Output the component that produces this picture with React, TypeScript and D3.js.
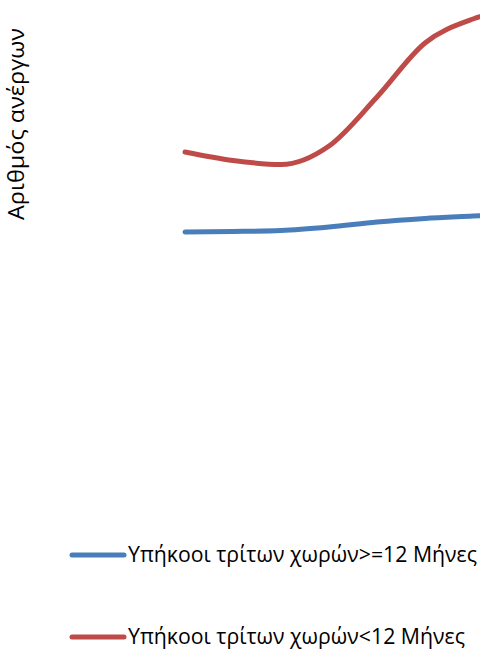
import React from "react";
import * as d3 from "d3";

const periods = ["P1", "P2", "P3", "P4", "P5", "P6", "P7", "P8"];
const seriesNames = ["Υπήκοοι τρίτων χωρών>=12 Μήνες", "Υπήκοοι τρίτων χωρών<12 Μήνες"];
const longTerm = [1800, 1805, 1815, 1850, 1900, 1935, 1960, 1985];
const shortTerm = [2600, 2515, 2475, 2660, 3150, 3690, 3930, 4040];
const colors = ["#4a7ebb", "#be4b48"];
const yTitle = "Αριθμός ανέργων";

export default function App() {
  const W = 480, H = 651;
  const x = d3.scalePoint<string>().domain(periods).range([185, 185 + 48 * (periods.length - 1)]);
  const y = d3.scaleLinear().domain([0, 4000]).range([412, 12]);
  const line = d3
    .line<number>()
    .x((_, i) => x(periods[i]) as number)
    .y((d) => y(d))
    .curve(d3.curveMonotoneX);
  const series = [longTerm, shortTerm];
  const font = "'Open Sans', 'Noto Sans', sans-serif";
  const legendY = [555, 637];
  return (
    <svg width={W} height={H} style={{ position: "absolute", left: 0, top: 0, background: "#fff" }}>
      <defs>
        <clipPath id="plot">
          <rect x={0} y={0} width={W} height={H} />
        </clipPath>
      </defs>
      <g clipPath="url(#plot)">
        {series.map((s, i) => (
          <path key={i} d={line(s) || ""} fill="none" stroke={colors[i]} strokeWidth={5} strokeLinecap="round" strokeLinejoin="round" />
        ))}
      </g>
      <text
        transform={`translate(24,124) rotate(-90)`}
        textAnchor="middle"
        fontFamily={font}
        fontSize={21}
        textLength={192}
        lengthAdjust="spacingAndGlyphs"
        fill="#000"
      >
        {yTitle}
      </text>
      {seriesNames.map((n, i) => (
        <g key={n}>
          <line x1={72} x2={124} y1={legendY[i]} y2={legendY[i]} stroke={colors[i]} strokeWidth={5} strokeLinecap="round" />
          <text
            x={128}
            y={legendY[i] + 7}
            fontFamily={font}
            fontSize={21}
            textLength={i === 0 ? 349 : 337}
            lengthAdjust="spacingAndGlyphs"
            fill="#000"
          >
            {n}
          </text>
        </g>
      ))}
    </svg>
  );
}
